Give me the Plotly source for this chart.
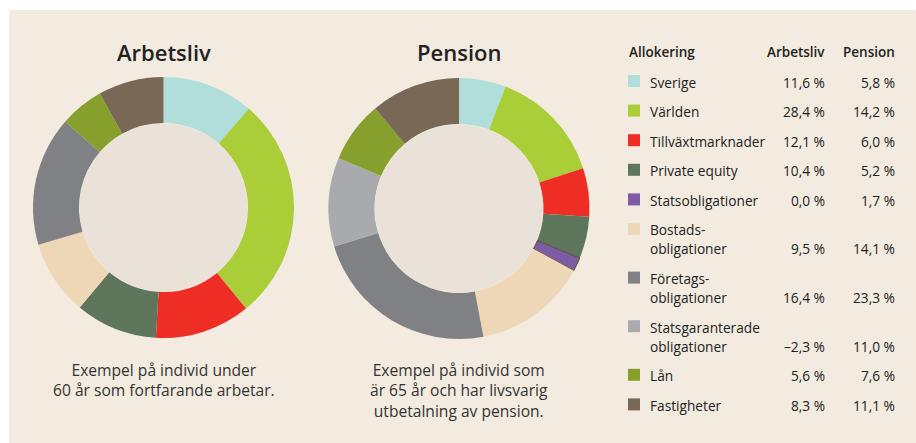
import plotly.graph_objects as go

categories = ["Sverige", "Världen", "Tillväxtmarknader", "Private equity", "Statsobligationer",
              "Bostads-\nobligationer", "Företags-\nobligationer", "Statsgaranterade\nobligationer",
              "Lån", "Fastigheter"]
arbetsliv = [11.6, 28.4, 12.1, 10.4, 0.0, 9.5, 16.4, -2.3, 5.6, 8.3]
pension = [5.8, 14.2, 6.0, 5.2, 1.7, 14.1, 23.3, 11.0, 7.6, 11.1]
colors = ["#B0DEDB", "#A9CE37", "#EE2D24", "#5E765C", "#7D5BA7",
          "#EED7B7", "#808185", "#A9AAAE", "#87A02D", "#786855"]
titles = ["Arbetsliv", "Pension"]
captions = [["Exempel på individ under", "60 år som fortfarande arbetar."],
            ["Exempel på individ som", "är 65 år och har livsvarig", "utbetalning av pension."]]
headers = ["Allokering", "Arbetsliv", "Pension"]

W, H = 916, 443
BG = "#F3EBDF"
INNER = "#EAE2D8"
FONT = "Open Sans"


def px(x):
    return x / W


def py(y):
    return 1 - y / H


fig = go.Figure()

centers = [(163.5, 207.5), (459, 208.5)]
R_OUT, R_IN = 130.5, 84.5

for (cx, cy), vals in zip(centers, [arbetsliv, pension]):
    idx = [i for i, v in enumerate(vals) if v > 0]
    fig.add_trace(go.Pie(
        labels=[categories[i] for i in idx],
        values=[vals[i] for i in idx],
        marker=dict(colors=[colors[i] for i in idx],
                    line=dict(color=["#5C5320" if i == 4 else "rgba(0,0,0,0)" for i in idx],
                              width=[1 if i == 4 else 0 for i in idx])),
        hole=R_IN / R_OUT,
        sort=False, direction="clockwise", rotation=0,
        textinfo="none", hoverinfo="label+value", showlegend=False,
        domain=dict(x=[px(cx - R_OUT), px(cx + R_OUT)], y=[py(cy + R_OUT), py(cy - R_OUT)]),
    ))
    fig.add_trace(go.Pie(
        values=[1], labels=[""], marker=dict(colors=[INNER], line=dict(width=0)),
        textinfo="none", hoverinfo="skip", showlegend=False, sort=False,
        domain=dict(x=[px(cx - R_IN + 0.5), px(cx + R_IN - 0.5)], y=[py(cy + R_IN - 0.5), py(cy - R_IN + 0.5)]),
    ))

annotations = []
shapes = [dict(type="rect", xref="paper", yref="paper", x0=px(9), x1=1, y0=0, y1=py(10),
               fillcolor=BG, line=dict(width=0), layer="below")]

# titles and captions
for (cx, cy), t, cap in zip(centers, titles, captions):
    annotations.append(dict(x=px(cx), y=py(52), xref="paper", yref="paper", text=t,
                            showarrow=False, xanchor="center", yanchor="middle",
                            font=dict(family=FONT, size=22, weight=600, color="#222222")))
    annotations.append(dict(x=px(cx), y=py(357), xref="paper", yref="paper", text="<br>".join(cap),
                            showarrow=False, xanchor="center", yanchor="top", align="center",
                            font=dict(family=FONT, size=15.6, color="#333333")))

# table
LX, SQX, C1, C2 = 648, 628, 827, 897
annotations.append(dict(x=px(627), y=py(52), xref="paper", yref="paper", text=headers[0],
                        showarrow=False, xanchor="left", yanchor="middle",
                        font=dict(family=FONT, size=13.5, weight=600, color="#222222")))
for xx, h in [(C1, headers[1]), (C2, headers[2])]:
    annotations.append(dict(x=px(xx), y=py(52), xref="paper", yref="paper", text=h,
                            showarrow=False, xanchor="right", yanchor="middle",
                            font=dict(family=FONT, size=13.5, weight=600, color="#222222")))


def fmt(v):
    s = f"{abs(v):.1f}".replace(".", ",") + " %"
    return ("–" if v < 0 else "") + s


y = 82
for i, cat in enumerate(categories):
    lines = cat.split("\n")
    shapes.append(dict(type="rect", xref="paper", yref="paper", x0=px(SQX), x1=px(SQX + 12),
                       y0=py(y + 5), y1=py(y - 7), fillcolor=colors[i], line=dict(width=0)))
    for k, line in enumerate(lines):
        annotations.append(dict(x=px(LX), y=py(y + 19 * k), xref="paper", yref="paper", text=line,
                                showarrow=False, xanchor="left", yanchor="middle",
                                font=dict(family=FONT, size=13.7, color="#222222")))
    ylast = y + 19 * (len(lines) - 1)
    for xx, v in [(C1, arbetsliv[i]), (C2, pension[i])]:
        annotations.append(dict(x=px(xx), y=py(ylast), xref="paper", yref="paper", text=fmt(v),
                                showarrow=False, xanchor="right", yanchor="middle",
                                font=dict(family=FONT, size=13.7, color="#222222")))
    y = ylast + 29.6

fig.update_layout(width=W, height=H, margin=dict(l=0, r=0, t=0, b=0),
                  paper_bgcolor="white", plot_bgcolor="white",
                  annotations=annotations, shapes=shapes, showlegend=False)

fig.write_html("out.html", config={"displayModeBar": False})
